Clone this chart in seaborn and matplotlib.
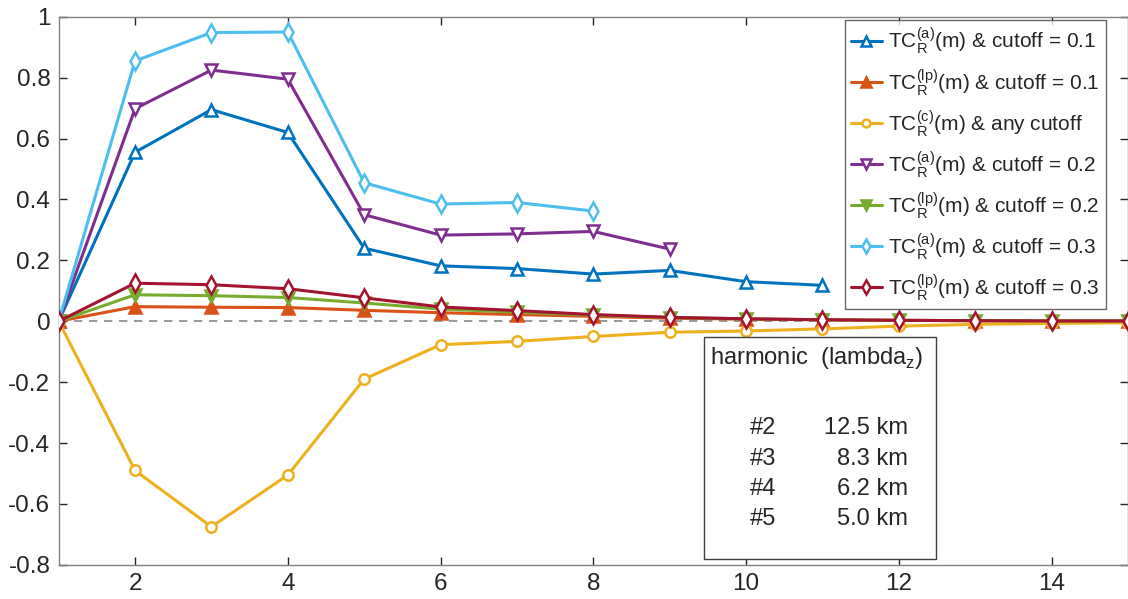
import numpy as np
import pandas as pd
import matplotlib
matplotlib.use("Agg")
import matplotlib.pyplot as plt
import seaborn as sns

# -----------------------------
# Data
# -----------------------------
harm = list(range(1, 16))

tc_a_01 = [0, 0.555, 0.695, 0.62, 0.24, 0.182, 0.173, 0.155, 0.167, 0.13, 0.118]
tc_lp_01 = [0, 0.048, 0.046, 0.045, 0.036, 0.028, 0.022, 0.016, 0.010, 0.007, 0.005, 0.003, 0.002, 0.001, 0.001]
tc_c = [0, -0.49, -0.675, -0.505, -0.19, -0.077, -0.066, -0.05, -0.036, -0.032, -0.025, -0.016, -0.01, -0.007, -0.005]
tc_a_02 = [0, 0.698, 0.825, 0.795, 0.35, 0.283, 0.287, 0.295, 0.237]
tc_lp_02 = [0, 0.087, 0.084, 0.078, 0.06, 0.04, 0.03, 0.02, 0.012, 0.008, 0.005, 0.003, 0.002, 0.001, 0.001]
tc_a_03 = [0, 0.855, 0.948, 0.95, 0.455, 0.385, 0.39, 0.362]
tc_lp_03 = [0, 0.125, 0.12, 0.107, 0.077, 0.047, 0.035, 0.022, 0.013, 0.008, 0.005, 0.003, 0.002, 0.001, 0.001]

labels = [
    r"TC$_\mathregular{R}^\mathregular{(a)}$(m) & cutoff = 0.1",
    r"TC$_\mathregular{R}^\mathregular{(lp)}$(m) & cutoff = 0.1",
    r"TC$_\mathregular{R}^\mathregular{(c)}$(m) & any cutoff",
    r"TC$_\mathregular{R}^\mathregular{(a)}$(m) & cutoff = 0.2",
    r"TC$_\mathregular{R}^\mathregular{(lp)}$(m) & cutoff = 0.2",
    r"TC$_\mathregular{R}^\mathregular{(a)}$(m) & cutoff = 0.3",
    r"TC$_\mathregular{R}^\mathregular{(lp)}$(m) & cutoff = 0.3",
]
series = [tc_a_01, tc_lp_01, tc_c, tc_a_02, tc_lp_02, tc_a_03, tc_lp_03]

harmonic_rows = ["#2", "#3", "#4", "#5"]
lambda_rows = ["12.5 km", "8.3 km", "6.2 km", "5.0 km"]

# -----------------------------
# Styles
# -----------------------------
colors = ["#0072BD", "#D95319", "#EDB120", "#7E2F8E", "#77AC30", "#4DBEEE", "#A2142F"]
markers = ["^", "^", "o", "v", "v", "d", "d"]
filled = [False, True, False, False, True, False, False]

sns.set_style("ticks")
plt.rcParams["font.family"] = ["Liberation Sans", "DejaVu Sans"]
plt.rcParams["mathtext.fontset"] = "custom"
plt.rcParams["mathtext.rm"] = "Liberation Sans"

fig = plt.figure(figsize=(11.28, 5.99), dpi=100)
ax = fig.add_axes([0.052, 0.057, 0.948, 0.915])

ax.axhline(0, color="#888888", linestyle=(0, (5, 4)), linewidth=1.2, zorder=1)

for vals, lab, col, mk, fl in zip(series, labels, colors, markers, filled):
    df = pd.DataFrame({"m": harm[:len(vals)], "tc": vals})
    sns.lineplot(
        data=df, x="m", y="tc", ax=ax,
        color=col, linewidth=2.2, label=lab,
        marker=mk, markersize=9 if mk != "o" else 7.5,
        markerfacecolor=col if fl else "white",
        markeredgecolor=col, markeredgewidth=1.8,
        zorder=3,
    )

ax.set_xlim(1, 15)
ax.set_ylim(-0.8, 1)
ax.set_xticks(range(2, 16, 2))
ax.set_yticks(np.round(np.arange(-0.8, 1.01, 0.2), 1))
ax.set_yticklabels(["-0.8", "-0.6", "-0.4", "-0.2", "0", "0.2", "0.4", "0.6", "0.8", "1"])
ax.set_xlabel("")
ax.set_ylabel("")
ax.tick_params(direction="in", length=6, labelsize=17.5, colors="#262626",
               top=True, right=True, width=1, pad=6)
for s in ax.spines.values():
    s.set_color("#808080")
    s.set_linewidth(1)

leg = ax.legend(
    loc="upper right", bbox_to_anchor=(0.979, 0.995),
    fontsize=15, frameon=True, fancybox=False, handlelength=1.45,
    handletextpad=0.3, labelspacing=0.5, borderaxespad=0,
    borderpad=0.3, markerscale=0.75,
)
leg.get_frame().set_edgecolor("#404040")
leg.get_frame().set_linewidth(1)

# -----------------------------
# Harmonic / wavelength box
# -----------------------------
box = plt.Rectangle((9.45, -0.781), 3.03, 0.728, facecolor="white",
                    edgecolor="#404040", linewidth=1, zorder=4)
ax.add_patch(box)
ax.text(9.53, -0.12, r"harmonic  (lambda$_\mathregular{z}$)", fontsize=17,
        va="center", ha="left", zorder=5)
for i, (h, lam) in enumerate(zip(harmonic_rows, lambda_rows)):
    yy = -0.352 - i * 0.099
    ax.text(10.39, yy, h, fontsize=17, va="center", ha="right", zorder=5)
    ax.text(12.12, yy, lam, fontsize=17, va="center", ha="right", zorder=5)

plt.savefig("out.png", dpi=100)
plt.close()
